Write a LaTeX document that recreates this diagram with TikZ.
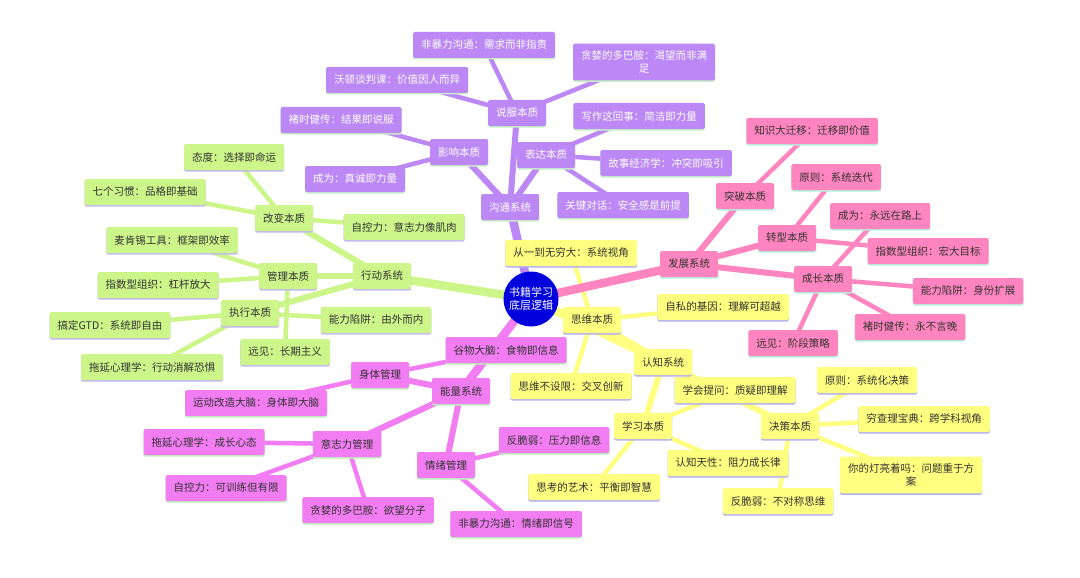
\documentclass[tikz,border=0pt]{standalone}
\usepackage{fontspec}
\newfontfamily\cjk{Noto Sans CJK SC}
\usetikzlibrary{shadows}
\pgfdeclarelayer{background}
\pgfdeclarelayer{paper}
\pgfsetlayers{paper,background,main}
\definecolor{purpleC}{RGB}{187,136,245}
\definecolor{greenC}{RGB}{204,245,138}
\definecolor{pinkC}{RGB}{255,133,192}
\definecolor{magC}{RGB}{242,124,242}
\definecolor{yellowC}{RGB}{255,255,128}
\definecolor{blueC}{RGB}{0,0,221}
\definecolor{txt}{RGB}{50,50,50}
\definecolor{pshadow}{RGB}{200,240,200}
\definecolor{gshadow}{RGB}{195,185,240}
\definecolor{kshadow}{RGB}{180,240,220}
\definecolor{mshadow}{RGB}{190,240,190}
\definecolor{yshadow}{RGB}{175,175,240}
\tikzset{
  box/.style={rounded corners=1.5pt, inner xsep=8pt, inner ysep=0pt, minimum height=26pt,
    font=\cjk\fontsize{10.5}{13}\selectfont, text=txt, align=center},
  pbox/.style={box, fill=purpleC, text=white, general shadow={shadow yshift=-1.5pt, fill=pshadow}},
  gbox/.style={box, fill=greenC, general shadow={shadow yshift=-1.5pt, fill=gshadow}},
  kbox/.style={box, fill=pinkC, general shadow={shadow yshift=-1.5pt, fill=kshadow}},
  mbox/.style={box, fill=magC, general shadow={shadow yshift=-1.5pt, fill=mshadow}},
  ybox/.style={box, fill=yellowC, general shadow={shadow yshift=-1.5pt, fill=yshadow}},
  twoline/.style={inner ysep=7pt},
  e1/.style={line width=8.5pt},
  e2/.style={line width=6pt},
  e3/.style={line width=4.5pt}
}
\begin{document}
\begin{tikzpicture}[x=1pt,y=-1pt]
\begin{pgfonlayer}{paper}
\fill[white] (0,0) rectangle (1080,578);
\end{pgfonlayer}
\useasboundingbox (0,0) rectangle (1080,578);
% root
\node[circle, fill=blueC, minimum size=55pt, inner sep=0pt, text=white, align=center,
  font=\cjk\fontsize{11}{13.5}\selectfont] (root) at (531,299) {书籍学习\\底层逻辑};
% communication
\node[pbox] (gt) at (510,207) {沟通系统};
\node[pbox] (sf) at (517,113) {说服本质};
\node[pbox] (yx) at (459,152) {影响本质};
\node[pbox] (bd) at (546,155) {表达本质};
\node[pbox] (sf1) at (484,45) {非暴力沟通：需求而非指责};
\node[pbox] (sf2) at (397,80) {沃顿谈判课：价值因人而异};
\node[pbox,twoline] (sf3) at (644,62) {贪婪的多巴胺：渴望而非满\\足};
\node[pbox] (yx1) at (341,120) {褚时健传：结果即说服};
\node[pbox] (yx2) at (355,179) {成为：真诚即力量};
\node[pbox] (bd1) at (639,116) {写作这回事：简洁即力量};
\node[pbox] (bd2) at (666,163) {故事经济学：冲突即吸引};
\node[pbox] (bd3) at (623,205) {关键对话：安全感是前提};
% action
\node[gbox] (xd) at (382,276) {行动系统};
\node[gbox] (gb) at (284,218) {改变本质};
\node[gbox] (gl) at (288,276) {管理本质};
\node[gbox] (zx) at (250,313) {执行本质};
\node[gbox] (gb1) at (234,157) {态度：选择即命运};
\node[gbox] (gb2) at (145,192) {七个习惯：品格即基础};
\node[gbox] (gb3) at (404,227) {自控力：意志力像肌肉};
\node[gbox] (gl1) at (172,240) {麦肯锡工具：框架即效率};
\node[gbox] (gl2) at (158,285) {指数型组织：杠杆放大};
\node[gbox] (gl3) at (285,352) {远见：长期主义};
\node[gbox] (zx1) at (110,325) {搞定GTD：系统即自由};
\node[gbox] (zx2) at (152,367) {拖延心理学：行动消解恐惧};
\node[gbox] (zx3) at (376,320) {能力陷阱：由外而内};
% development
\node[kbox] (fz) at (689,264) {发展系统};
\node[kbox] (tp) at (745,196) {突破本质};
\node[kbox] (zsx) at (787,238) {转型本质};
\node[kbox] (cz) at (823,279) {成长本质};
\node[kbox] (tp1) at (812,131) {知识大迁移：迁移即价值};
\node[kbox] (zsx1) at (836,177) {原则：系统迭代};
\node[kbox] (zsx2) at (928,251) {指数型组织：宏大目标};
\node[kbox] (cz1) at (880,216) {成为：永远在路上};
\node[kbox] (cz2) at (968,291) {能力陷阱：身份扩展};
\node[kbox] (cz3) at (910,327) {褚时健传：永不言晚};
\node[kbox] (cz4) at (793,343) {远见：阶段策略};
% cognition
\node[ybox] (rz) at (663,362) {认知系统};
\node[ybox] (sw) at (592,320) {思维本质};
\node[ybox] (xx) at (643,426) {学习本质};
\node[ybox] (jc) at (790,426) {决策本质};
\node[ybox] (sw1) at (571,253) {从一到无穷大：系统视角};
\node[ybox] (sw2) at (723,307) {自私的基因：理解可超越};
\node[ybox] (sw3) at (571,386) {思维不设限：交叉创新};
\node[ybox] (xx1) at (735,390) {学会提问：质疑即理解};
\node[ybox] (xx2) at (728,463) {认知天性：阻力成长律};
\node[ybox] (xx3) at (594,487) {思考的艺术：平衡即智慧};
\node[ybox] (jc1) at (867,380) {原则：系统化决策};
\node[ybox] (jc2) at (924,419) {穷查理宝典：跨学科视角};
\node[ybox,twoline] (jc3) at (911,475) {你的灯亮着吗：问题重于方\\案};
\node[ybox] (jc4) at (778,501) {反脆弱：不对称思维};
% energy
\node[mbox] (nl) at (461,391) {能量系统};
\node[mbox] (st) at (380,375) {身体管理};
\node[mbox] (yz) at (347,444) {意志力管理};
\node[mbox] (qx) at (446,465) {情绪管理};
\node[mbox] (st1) at (506,350) {谷物大脑：食物即信息};
\node[mbox] (st2) at (256,403) {运动改造大脑：身体即大脑};
\node[mbox] (yz1) at (204,442) {拖延心理学：成长心态};
\node[mbox] (yz2) at (226,488) {自控力：可训练但有限};
\node[mbox] (yz3) at (368,510) {贪婪的多巴胺：欲望分子};
\node[mbox] (qx1) at (554,440) {反脆弱：压力即信息};
\node[mbox] (qx2) at (516,524) {非暴力沟通：情绪即信号};
% connectors
\begin{pgfonlayer}{background}
\begin{scope}[draw=yellowC]
\draw[e1] (root.center) -- (rz.center);
\draw[e2] (rz.center) -- (sw.center);
\draw[e2] (rz.center) -- (xx.center);
\draw[e2] (rz.center) -- (jc.center);
\draw[e3] (sw.center) -- (sw1.center);
\draw[e3] (sw.center) -- (sw2.center);
\draw[e3] (sw.center) -- (sw3.center);
\draw[e3] (xx.center) -- (xx1.center);
\draw[e3] (xx.center) -- (xx2.center);
\draw[e3] (xx.center) -- (xx3.center);
\draw[e3] (jc.center) -- (jc1.center);
\draw[e3] (jc.center) -- (jc2.center);
\draw[e3] (jc.center) -- (jc3.center);
\draw[e3] (jc.center) -- (jc4.center);
\end{scope}
\begin{scope}[draw=purpleC]
\draw[e1] (root.center) -- (gt.center);
\draw[e2] (gt.center) -- (sf.center);
\draw[e2] (gt.center) -- (yx.center);
\draw[e2] (gt.center) -- (bd.center);
\draw[e3] (sf.center) -- (sf1.center);
\draw[e3] (sf.center) -- (sf2.center);
\draw[e3] (sf.center) -- (sf3.center);
\draw[e3] (yx.center) -- (yx1.center);
\draw[e3] (yx.center) -- (yx2.center);
\draw[e3] (bd.center) -- (bd1.center);
\draw[e3] (bd.center) -- (bd2.center);
\draw[e3] (bd.center) -- (bd3.center);
\end{scope}
\begin{scope}[draw=greenC]
\draw[e1] (root.center) -- (xd.center);
\draw[e2] (xd.center) -- (gb.center);
\draw[e2] (xd.center) -- (gl.center);
\draw[e2] (xd.center) -- (zx.center);
\draw[e3] (gb.center) -- (gb1.center);
\draw[e3] (gb.center) -- (gb2.center);
\draw[e3] (gb.center) -- (gb3.center);
\draw[e3] (gl.center) -- (gl1.center);
\draw[e3] (gl.center) -- (gl2.center);
\draw[e3] (gl.center) -- (gl3.center);
\draw[e3] (zx.center) -- (zx1.center);
\draw[e3] (zx.center) -- (zx2.center);
\draw[e3] (zx.center) -- (zx3.center);
\end{scope}
\begin{scope}[draw=pinkC]
\draw[e1] (root.center) -- (fz.center);
\draw[e2] (fz.center) -- (tp.center);
\draw[e2] (fz.center) -- (zsx.center);
\draw[e2] (fz.center) -- (cz.center);
\draw[e3] (tp.center) -- (tp1.center);
\draw[e3] (zsx.center) -- (zsx1.center);
\draw[e3] (zsx.center) -- (zsx2.center);
\draw[e3] (cz.center) -- (cz1.center);
\draw[e3] (cz.center) -- (cz2.center);
\draw[e3] (cz.center) -- (cz3.center);
\draw[e3] (cz.center) -- (cz4.center);
\end{scope}
\begin{scope}[draw=magC]
\draw[e1] (root.center) -- (nl.center);
\draw[e2] (nl.center) -- (st.center);
\draw[e2] (nl.center) -- (yz.center);
\draw[e2] (nl.center) -- (qx.center);
\draw[e3] (st.center) -- (st1.center);
\draw[e3] (st.center) -- (st2.center);
\draw[e3] (yz.center) -- (yz1.center);
\draw[e3] (yz.center) -- (yz2.center);
\draw[e3] (yz.center) -- (yz3.center);
\draw[e3] (qx.center) -- (qx1.center);
\draw[e3] (qx.center) -- (qx2.center);
\end{scope}
\end{pgfonlayer}
\end{tikzpicture}
\end{document}
